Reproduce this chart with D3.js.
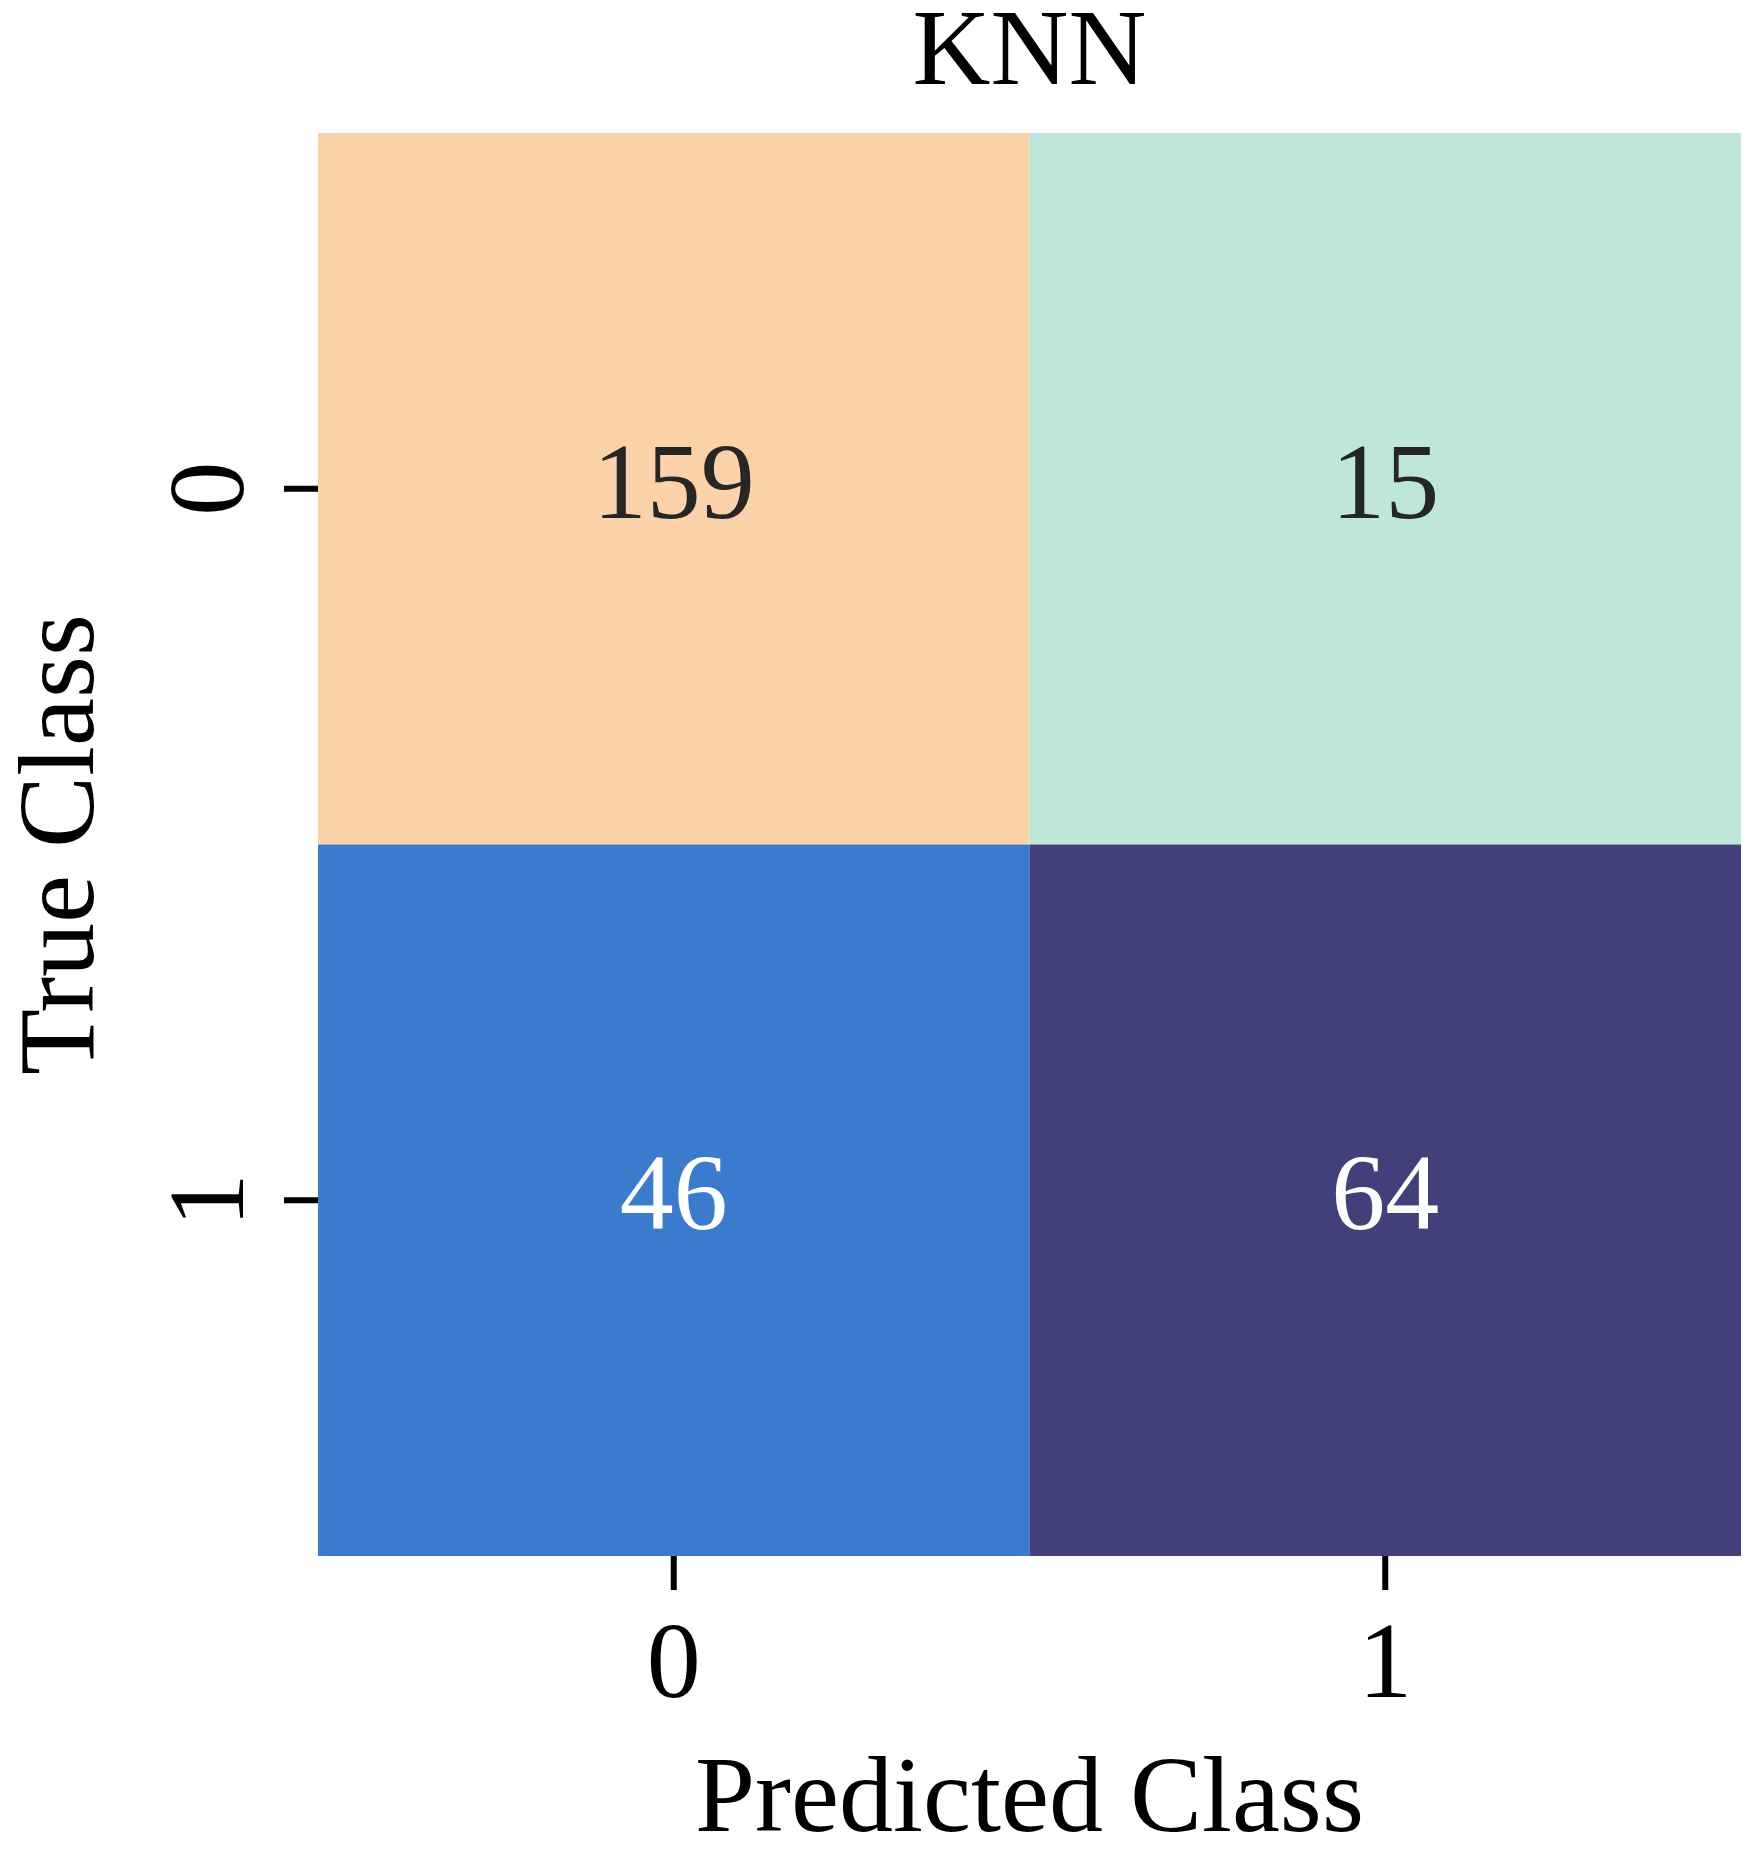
<!DOCTYPE html>
<html>
<head>
<meta charset="utf-8">
<script src="https://cdn.jsdelivr.net/npm/d3@7"></script>
<style>
  body { margin: 0; background: #fff; }
  text { font-family: "Liberation Serif", "Times New Roman", serif; }
</style>
</head>
<body>
<script>
// confusion matrix data
var predictedClasses = ["0", "1"];
var trueClasses = ["0", "1"];
var counts = [
  [159, 15],
  [46, 64]
];
var cellValues = [159, 15, 46, 64];
var cellColors = ["#fcd3a9", "#bee7da", "#3a7bcd", "#41407a"];

// set the dimensions and margins of the graph
var width = 1747, height = 1854;
var margin = {top: 133, right: 6, bottom: 298, left: 318};
var fontSize = 108;

var svg = d3.select("body").append("svg")
    .attr("width", width)
    .attr("height", height);

var x = d3.scaleBand().domain(predictedClasses).range([margin.left, width - margin.right]);
var y = d3.scaleBand().domain(trueClasses).range([margin.top, height - margin.bottom]);

// colour looked up per value
var color = d3.scaleOrdinal().domain(cellValues).range(cellColors);

var cells = [];
trueClasses.forEach(function(t, i) {
  predictedClasses.forEach(function(p, j) {
    cells.push({t: t, p: p, v: counts[i][j]});
  });
});

svg.selectAll("rect.cell")
    .data(cells)
  .enter().append("rect")
    .attr("class", "cell")
    .attr("x", function(d) { return x(d.p); })
    .attr("y", function(d) { return y(d.t); })
    .attr("width", x.bandwidth())
    .attr("height", y.bandwidth())
    .attr("fill", function(d) { return color(d.v); });

// annotations
svg.selectAll("text.annot")
    .data(cells)
  .enter().append("text")
    .attr("class", "annot")
    .attr("x", function(d) { return x(d.p) + x.bandwidth() / 2; })
    .attr("y", function(d) { return y(d.t) + y.bandwidth() / 2 + 29; })
    .attr("text-anchor", "middle")
    .attr("font-size", fontSize)
    .attr("fill", function(d) {
      var c = d3.hsl(color(d.v));
      return c.l > 0.6 ? "#262626" : "#ffffff";
    })
    .text(function(d) { return d.v; });

// x axis
var xAxis = svg.append("g")
    .attr("transform", "translate(0," + (height - margin.bottom) + ")")
    .call(d3.axisBottom(x).tickSize(34).tickSizeOuter(0));
xAxis.select(".domain").remove();
xAxis.selectAll(".tick line").attr("stroke", "#000").attr("stroke-width", 6);
xAxis.selectAll(".tick text")
    .attr("y", 141)
    .attr("dy", 0)
    .attr("fill", "#000")
    .attr("font-size", fontSize)
    .attr("font-family", "Liberation Serif, Times New Roman, serif");

// y axis
var yAxis = svg.append("g")
    .attr("transform", "translate(" + margin.left + ",0)")
    .call(d3.axisLeft(y).tickSize(34).tickSizeOuter(0));
yAxis.select(".domain").remove();
yAxis.selectAll(".tick line").attr("stroke", "#000").attr("stroke-width", 6);
yAxis.selectAll(".tick text")
    .attr("x", 0)
    .attr("y", -75)
    .attr("dy", 0)
    .attr("transform", "rotate(-90)")
    .attr("text-anchor", "middle")
    .attr("fill", "#000")
    .attr("font-size", fontSize)
    .attr("font-family", "Liberation Serif, Times New Roman, serif");

var cx = (margin.left + width - margin.right) / 2;
var cy = (margin.top + height - margin.bottom) / 2;

// title
svg.append("text")
    .attr("x", cx)
    .attr("y", 84)
    .attr("text-anchor", "middle")
    .attr("font-size", fontSize)
    .text("KNN");

// axis labels
svg.append("text")
    .attr("x", cx)
    .attr("y", 1831)
    .attr("text-anchor", "middle")
    .attr("font-size", fontSize)
    .text("Predicted Class");

svg.append("text")
    .attr("transform", "translate(93," + cy + ") rotate(-90)")
    .attr("text-anchor", "middle")
    .attr("font-size", fontSize)
    .text("True Class");
</script>
</body>
</html>
